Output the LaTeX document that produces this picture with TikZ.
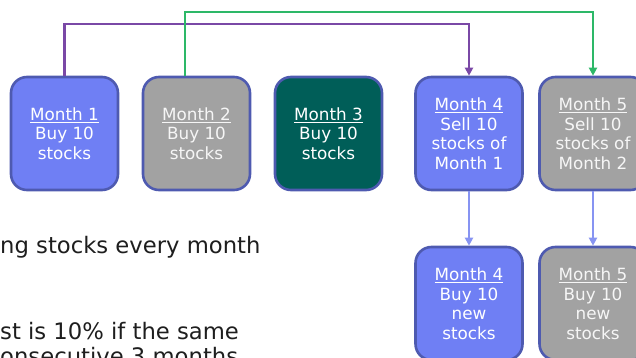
\documentclass[tikz,border=0pt]{standalone}
\usepackage{fontspec}
\setmainfont{DejaVu Sans}
\usetikzlibrary{arrows.meta,calc}
\definecolor{bluebox}{HTML}{6F7FF4}
\definecolor{graybox}{HTML}{A2A2A2}
\definecolor{tealbox}{HTML}{005E58}
\definecolor{boxborder}{HTML}{4E5AB0}
\definecolor{purpleline}{HTML}{7A48A6}
\definecolor{greenline}{HTML}{2DB868}
\definecolor{lightarrow}{HTML}{8794F2}
\definecolor{bodytext}{HTML}{1E1E1E}
\tikzset{
  monthbox/.style={draw=boxborder, line width=2.6pt, rounded corners=16pt,
    minimum width=107pt, minimum height=113pt, align=center, inner sep=0pt,
    text=white, font=\fontsize{16.8}{19.5}\selectfont},
  bluefill/.style={monthbox, fill=bluebox},
  grayfill/.style={monthbox, fill=graybox, text=white!93!gray},
  tealfill/.style={monthbox, fill=tealbox},
  link/.style={line width=2.3pt},
  tip/.style={-{Triangle[width=8pt,length=8pt]}},
  bodyline/.style={anchor=base west, inner sep=0pt, text=bodytext,
    font=\fontsize{22.7}{25}\selectfont}
}
\begin{document}
\begin{tikzpicture}[x=1pt,y=-1pt]
\useasboundingbox (0,0) rectangle (636,358);
\clip (0,0) rectangle (636,358);
\node[bluefill] (b1) at (64.5,133.5) {\underline{Month 1}\\Buy 10\\stocks};
\node[grayfill] (b2) at (196.5,133.5) {\underline{Month 2}\\Buy 10\\stocks};
\node[tealfill] (b3) at (328.5,133.5) {\underline{Month 3}\\Buy 10\\stocks};
\node[bluefill] (b4) at (469,133.5) {\underline{Month 4}\\Sell 10\\stocks of\\Month 1};
\node[grayfill] (b5) at (593,133.5) {\underline{Month 5}\\Sell 10\\stocks of\\Month 2};
\node[bluefill] (c4) at (469,303.5) {\underline{Month 4}\\Buy 10\\new\\stocks};
\node[grayfill] (c5) at (593,303.5) {\underline{Month 5}\\Buy 10\\new\\stocks};
\draw[link, purpleline, tip] (b1.north) -- ++(0,-52) -| (b4.north);
\draw[link, greenline, tip] ([xshift=-11.5pt]b2.north) -- ++(0,-64) -| (b5.north);
\draw[link, lightarrow, tip] (b4.south) -- (c4.north);
\draw[link, lightarrow, tip] (b5.south) -- (c5.north);
\node[bodyline] (t1) at (0,253) {ng stocks every month};
\node[bodyline] (t2) at (0,339) {st is 10\% if the same};
\node[bodyline] (t3) at (0,364) {onsecutive 3 months};
\end{tikzpicture}
\end{document}
